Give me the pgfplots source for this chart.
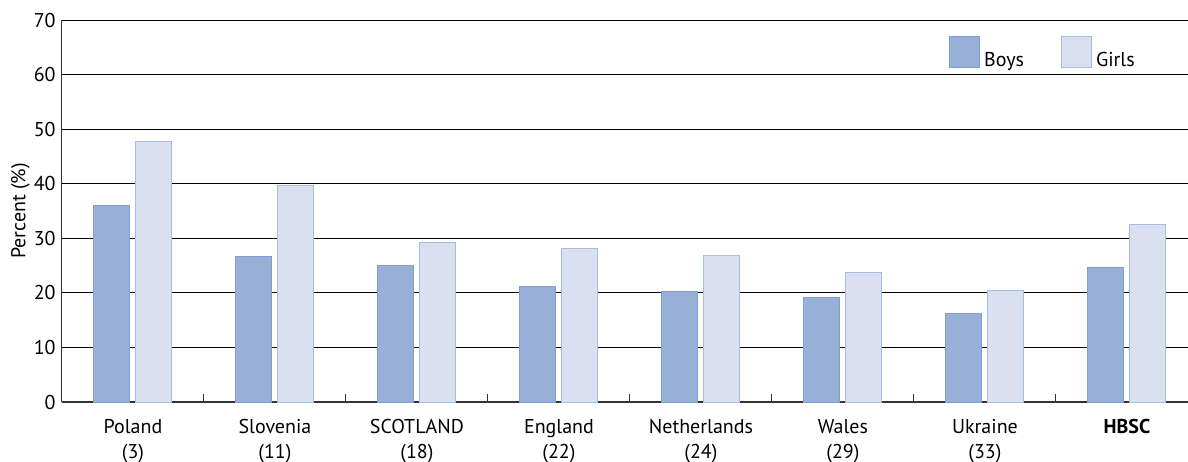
\documentclass[border=0pt]{standalone}
\usepackage{fontspec}
\setmainfont{PT Sans}
\usepackage{pgfplots}
\pgfplotsset{compat=1.18}

\definecolor{boysfill}{HTML}{98AFD8}
\definecolor{boysdraw}{HTML}{7F9FD4}
\definecolor{girlsfill}{HTML}{DAE0F0}
\definecolor{girlsdraw}{HTML}{A8BDE3}

\begin{document}
\begin{tikzpicture}
\begin{axis}[
    scale only axis,
    width=563pt,
    height=191pt,
    xmin=-0.5,
    xmax=7.43,
    ymin=0,
    ymax=70,
    ybar,
    bar width=18pt,
    ybar=3pt,
    every axis plot post/.append style={
        legend image code/.code={\draw[##1] (0pt,-3.5pt) rectangle (15pt,12pt);}
    },
    axis x line*=bottom,
    axis y line*=left,
    x axis line style={line width=1pt, color=black!80},
    y axis line style={line width=0.5pt, color=black!80},
    ytick={0,10,...,70},
    xtick={0,...,7},
    xticklabels={Poland\\(3),Slovenia\\(11),SCOTLAND\\(18),England\\(22),Netherlands\\(24),Wales\\(29),Ukraine\\(33),\textbf{HBSC}},
    minor xtick={0.5,1.5,...,6.5},
    major tick length=0pt,
    minor tick length=4pt,
    tick align=inside,
    minor tick style={black!80, line width=0.5pt},
    ymajorgrids=true,
    grid style={black, line width=0.5pt},
    /pgf/number format/assume math mode=true,
    tick label style={font=\fontsize{10}{12.5}\selectfont},
    xticklabel style={align=center, anchor=north, yshift=-5pt},
    yticklabel style={inner xsep=0pt, xshift=-3pt},
    ylabel={Percent (\%)},
    ylabel style={at={(axis description cs:-0.037,0.5)}, anchor=center, font=\fontsize{10}{11}\selectfont},
    legend style={
        draw=none,
        fill=none,
        font=\fontsize{10}{11}\selectfont,
        at={(axis description cs:0.9566,0.958)},
        anchor=north east,
        legend columns=-1,
        column sep=0pt,
        /tikz/column 2/.style={column sep=16.5pt},
        inner sep=0pt,
    },
]
\addplot[fill=boysfill, draw=boysdraw, line width=0.5pt] coordinates {
    (0,36.0) (1,26.7) (2,25.1) (3,21.2) (4,20.3) (5,19.2) (6,16.3) (7,24.7)
};
\addplot[fill=girlsfill, draw=girlsdraw, line width=0.5pt] coordinates {
    (0,47.7) (1,39.6) (2,29.3) (3,28.2) (4,26.9) (5,23.8) (6,20.5) (7,32.5)
};
\legend{Boys,Girls}
\end{axis}
\pgfresetboundingbox
\path[use as bounding box] (-31pt,-29.5pt) rectangle (563pt,201pt);
\end{tikzpicture}
\end{document}
